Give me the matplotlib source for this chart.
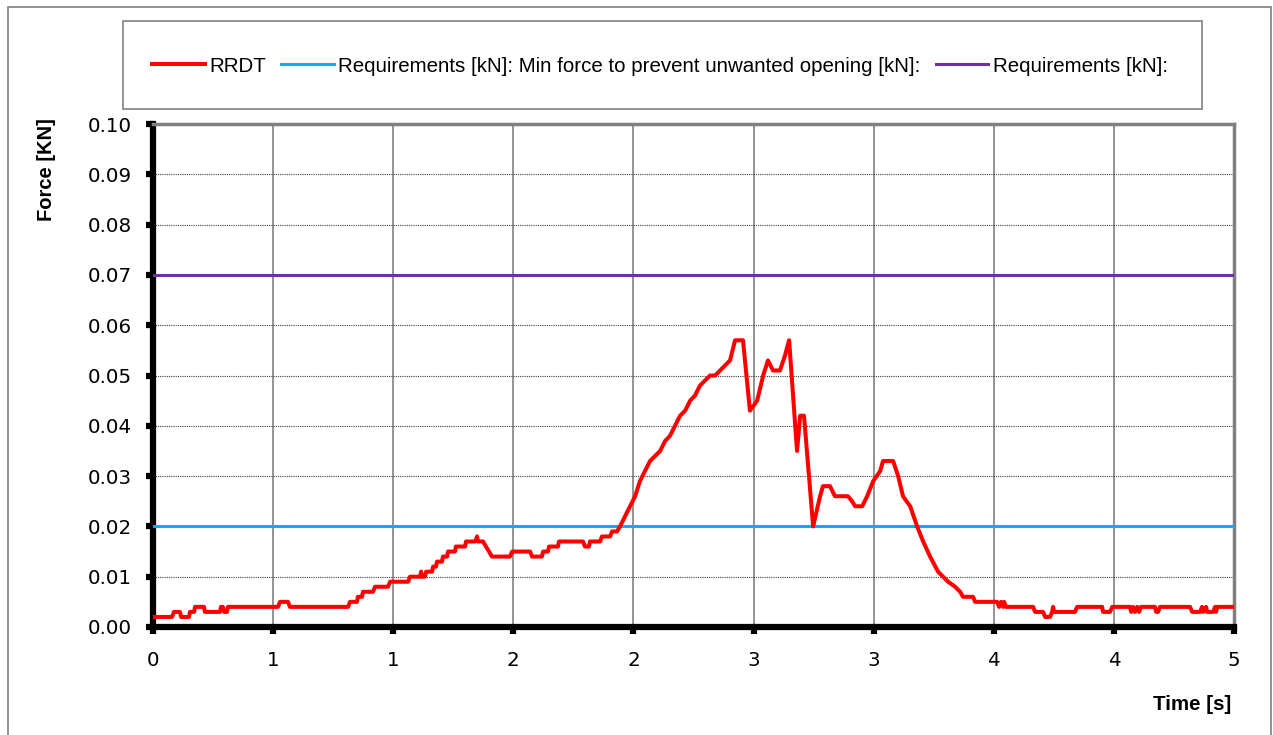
import matplotlib
matplotlib.use("Agg")
import matplotlib.pyplot as plt
from matplotlib.patches import Rectangle

# RRDT force trace (time in s, force in kN)
time_s = [
    0.000, 0.079, 0.087, 0.112, 0.117, 0.150, 0.154, 0.171, 0.175, 0.212,
    0.216, 0.279, 0.283, 0.291, 0.296, 0.308, 0.312, 0.520, 0.529, 0.562,
    0.570, 0.812, 0.820, 0.849, 0.853, 0.870, 0.874, 0.916, 0.924, 0.978,
    0.987, 1.062, 1.070, 1.112, 1.116, 1.120, 1.132, 1.137, 1.162, 1.166,
    1.178, 1.182, 1.203, 1.207, 1.224, 1.228, 1.257, 1.261, 1.299, 1.303,
    1.341, 1.349, 1.353, 1.374, 1.386, 1.399, 1.411, 1.486, 1.495, 1.570,
    1.578, 1.619, 1.624, 1.644, 1.649, 1.686, 1.690, 1.790, 1.798, 1.815,
    1.819, 1.861, 1.869, 1.903, 1.911, 1.932, 1.944, 1.965, 1.986, 2.007,
    2.027, 2.048, 2.069, 2.090, 2.111, 2.132, 2.152, 2.173, 2.194, 2.215,
    2.236, 2.256, 2.277, 2.298, 2.319, 2.340, 2.361, 2.381, 2.402, 2.423,
    2.456, 2.485, 2.515, 2.540, 2.560, 2.581, 2.610, 2.631, 2.648, 2.681,
    2.694, 2.710, 2.748, 2.777, 2.789, 2.818, 2.839, 2.893, 2.910, 2.923,
    2.952, 2.973, 2.998, 3.027, 3.039, 3.081, 3.102, 3.122, 3.152, 3.181,
    3.206, 3.235, 3.268, 3.289, 3.310, 3.339, 3.360, 3.372, 3.414, 3.422,
    3.514, 3.522, 3.530, 3.539, 3.543, 3.551, 3.664, 3.672, 3.705, 3.714,
    3.734, 3.743, 3.747, 3.751, 3.838, 3.847, 3.951, 3.955, 3.984, 3.993,
    4.067, 4.072, 4.080, 4.088, 4.097, 4.105, 4.113, 4.171, 4.176, 4.184,
    4.192, 4.317, 4.326, 4.359, 4.367, 4.371, 4.384, 4.388, 4.413, 4.421,
    4.425, 4.430, 4.500,
]
force_kn = [
    0.002, 0.002, 0.003, 0.003, 0.002, 0.002, 0.003, 0.003, 0.004, 0.004,
    0.003, 0.003, 0.004, 0.004, 0.003, 0.003, 0.004, 0.004, 0.005, 0.005,
    0.004, 0.004, 0.005, 0.005, 0.006, 0.006, 0.007, 0.007, 0.008, 0.008,
    0.009, 0.009, 0.010, 0.010, 0.011, 0.010, 0.010, 0.011, 0.011, 0.012,
    0.012, 0.013, 0.013, 0.014, 0.014, 0.015, 0.015, 0.016, 0.016, 0.017,
    0.017, 0.018, 0.017, 0.017, 0.016, 0.015, 0.014, 0.014, 0.015, 0.015,
    0.014, 0.014, 0.015, 0.015, 0.016, 0.016, 0.017, 0.017, 0.016, 0.016,
    0.017, 0.017, 0.018, 0.018, 0.019, 0.019, 0.020, 0.022, 0.024, 0.026,
    0.029, 0.031, 0.033, 0.034, 0.035, 0.037, 0.038, 0.040, 0.042, 0.043,
    0.045, 0.046, 0.048, 0.049, 0.050, 0.050, 0.051, 0.052, 0.053, 0.057,
    0.057, 0.043, 0.045, 0.050, 0.053, 0.051, 0.051, 0.054, 0.057, 0.035,
    0.042, 0.042, 0.020, 0.026, 0.028, 0.028, 0.026, 0.026, 0.025, 0.024,
    0.024, 0.026, 0.029, 0.031, 0.033, 0.033, 0.030, 0.026, 0.024, 0.020,
    0.017, 0.014, 0.011, 0.010, 0.009, 0.008, 0.007, 0.006, 0.006, 0.005,
    0.005, 0.004, 0.005, 0.004, 0.005, 0.004, 0.004, 0.003, 0.003, 0.002,
    0.002, 0.003, 0.004, 0.003, 0.003, 0.004, 0.004, 0.003, 0.003, 0.004,
    0.004, 0.003, 0.004, 0.003, 0.004, 0.003, 0.004, 0.004, 0.003, 0.003,
    0.004, 0.004, 0.003, 0.003, 0.004, 0.003, 0.004, 0.003, 0.003, 0.004,
    0.003, 0.004, 0.004,
]

min_force = 0.02
req_force = 0.07

x_ticks = [0, 0.5, 1.0, 1.5, 2.0, 2.5, 3.0, 3.5, 4.0, 4.5]
x_tick_labels = ["0", "1", "1", "2", "2", "3", "3", "4", "4", "5"]
y_ticks = [0.00, 0.01, 0.02, 0.03, 0.04, 0.05, 0.06, 0.07, 0.08, 0.09, 0.10]

fig = plt.figure(figsize=(12.73, 7.35), dpi=100)
fig.patch.set_facecolor("white")
# outer chart border
fig.patches.append(Rectangle((8 / 1273, -0.01), 1263 / 1273, 1 - 7 / 735 + 0.01,
                             transform=fig.transFigure, fill=False,
                             edgecolor="#7f7f7f", linewidth=1.2))

ax = fig.add_axes([153 / 1273, 1 - 627 / 735, 1081 / 1273, 503 / 735])

l1, = ax.plot(time_s, force_kn, color="#ff0000", linewidth=2.9, label="RRDT", zorder=4)
l2 = ax.axhline(min_force, color="#00b0f0", linewidth=2.2,
                label="Requirements [kN]: Min force to prevent unwanted opening [kN]:", zorder=3)
l3 = ax.axhline(req_force, color="#7030a0", linewidth=2.2,
                label="Requirements [kN]:", zorder=3)

ax.set_xlim(0, 4.5)
ax.set_ylim(0, 0.10)
ax.set_xticks(x_ticks)
ax.set_xticklabels(x_tick_labels)
ax.set_yticks(y_ticks)
ax.set_yticklabels([f"{v:.2f}" for v in y_ticks])

ax.xaxis.grid(True, color="#808080", linewidth=1.2, linestyle="-")
ax.yaxis.grid(True, color="#404040", linewidth=0.8, linestyle=(0, (1, 1)))
ax.set_axisbelow(True)

for side in ["left", "bottom"]:
    ax.spines[side].set_linewidth(4.5)
    ax.spines[side].set_color("black")
for side in ["top", "right"]:
    ax.spines[side].set_linewidth(2.5)
    ax.spines[side].set_color("#808080")

ax.tick_params(axis="both", direction="out", width=4.5, color="black", labelsize=14.3)
ax.tick_params(axis="y", length=5, pad=10)
ax.tick_params(axis="x", length=5, pad=12)

fig.text(46 / 1273, 1 - 170 / 735, "Force [KN]", rotation=90, ha="center", va="center",
         fontsize=14.5, fontweight="bold", family="Liberation Sans")
fig.text(1231 / 1273, 1 - 704 / 735, "Time [s]", ha="right", va="center",
         fontsize=14.8, fontweight="bold", family="Liberation Sans")

leg = fig.legend(handles=[l1, l2, l3], ncol=3, loc="center",
                 bbox_to_anchor=(660 / 1273, 1 - 66 / 735),
                 prop={"family": "Liberation Sans", "size": 14.8},
                 frameon=False, handlelength=2.55, handletextpad=0.22,
                 columnspacing=0.75)
fig.patches.append(Rectangle((123 / 1273, 1 - 109 / 735), 1079 / 1273, 88 / 735,
                             transform=fig.transFigure, fill=False,
                             edgecolor="#808080", linewidth=1.2))

fig.savefig("out.png", dpi=100, facecolor="white")
